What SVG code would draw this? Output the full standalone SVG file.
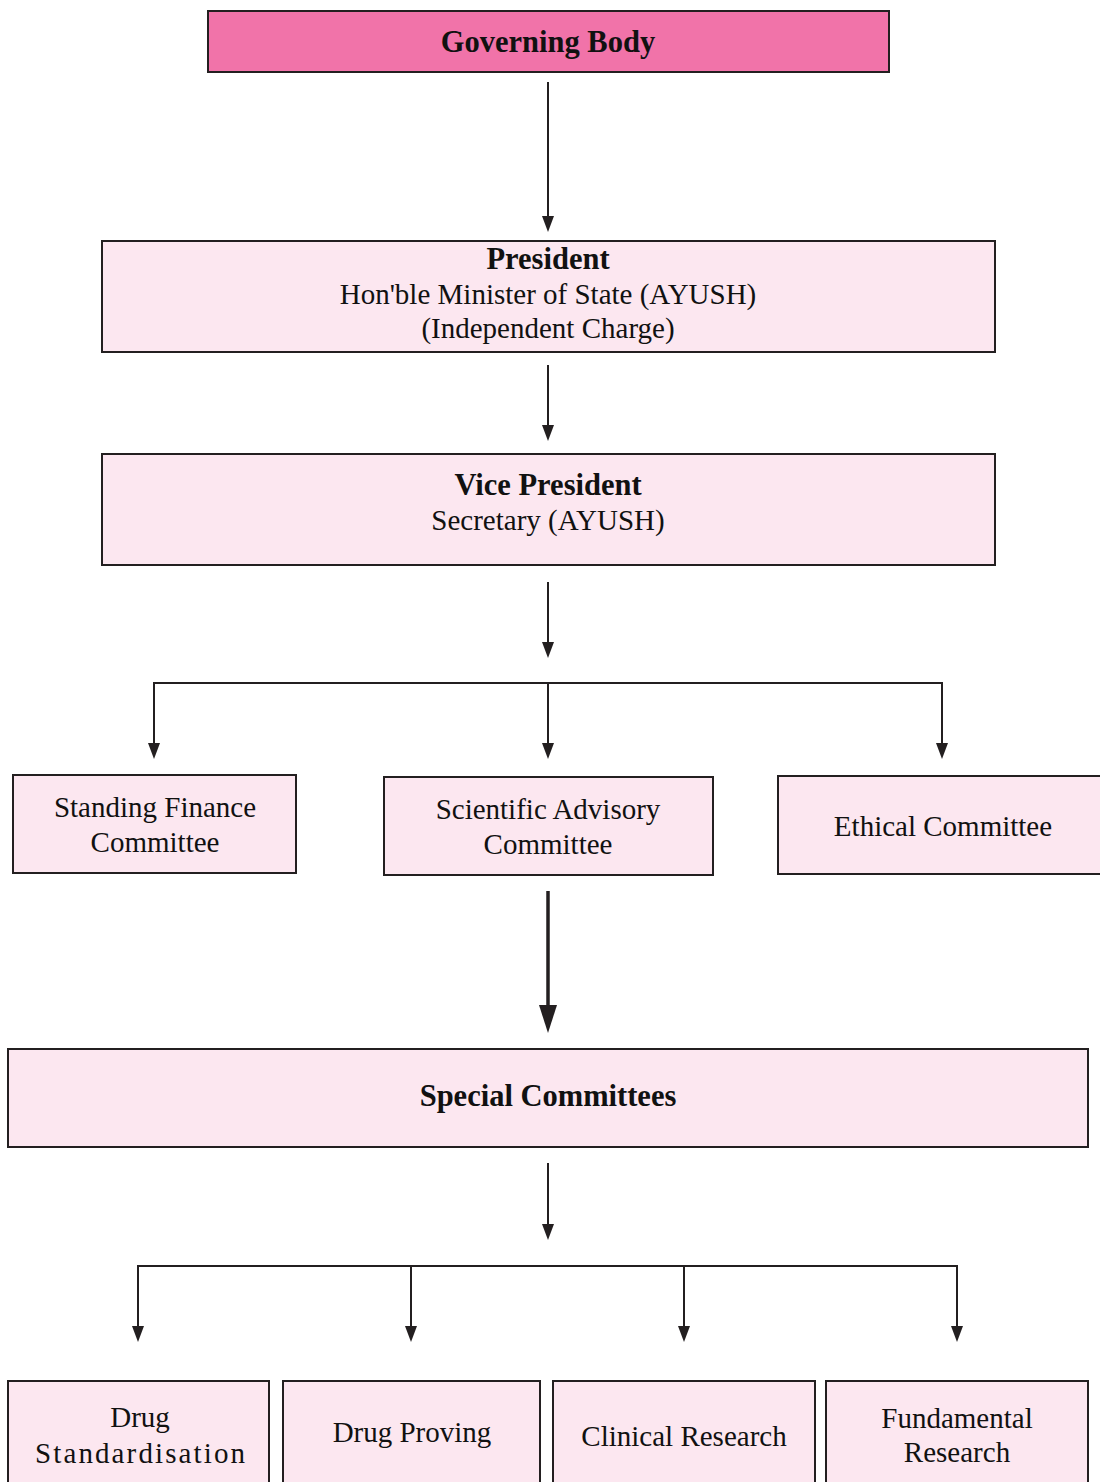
<svg xmlns="http://www.w3.org/2000/svg" width="1100" height="1482" viewBox="0 0 1100 1482">
<defs>
<style>
.box{fill:#FCE7F0;stroke:#231F20;stroke-width:2}
.top{fill:#F173A9;stroke:#231F20;stroke-width:2}
text{font-family:"Liberation Serif","Times New Roman",serif;font-size:29px;fill:#111;text-anchor:middle;dominant-baseline:central}
.b{font-weight:bold;font-size:30.5px}
.ln{stroke:#231F20;stroke-width:2;fill:none}
.thk{stroke:#231F20;stroke-width:3.5;fill:none}
.ah{fill:#231F20}
</style>
</defs>
<rect width="1100" height="1482" fill="#fff"/>
<g id="connectors">
<path class="ln" d="M548,82 V216"/><path class="ah" d="M542,216 H554 L548,232 Z"/>
<path class="ln" d="M548,365 V425"/><path class="ah" d="M542,425 H554 L548,441 Z"/>
<path class="ln" d="M548,582 V642"/><path class="ah" d="M542,642 H554 L548,658 Z"/>
<path class="ln" d="M154,743 V683 H942 V743"/>
<path class="ln" d="M548,683 V743"/>
<path class="ah" d="M148,743 H160 L154,759 Z M542,743 H554 L548,759 Z M936,743 H948 L942,759 Z"/>
<path class="thk" d="M548,891 V1006"/><path class="ah" d="M539,1005 H557 L548,1033 Z"/>
<path class="ln" d="M548,1163 V1224"/><path class="ah" d="M542,1224 H554 L548,1240 Z"/>
<path class="ln" d="M138,1326 V1266 H957 V1326"/>
<path class="ln" d="M411,1266 V1326 M684,1266 V1326"/>
<path class="ah" d="M132,1326 H144 L138,1342 Z M405,1326 H417 L411,1342 Z M678,1326 H690 L684,1342 Z M951,1326 H963 L957,1342 Z"/>
</g>
<g id="governing-body"><rect class="top" x="208" y="11" width="681" height="61"/><text class="b" x="548" y="42">Governing Body</text></g>
<g id="president"><rect class="box" x="102" y="241" width="893" height="111"/>
<text class="b" x="548" y="259">President</text>
<text x="548" y="294">Hon'ble Minister of State (AYUSH)</text>
<text x="548" y="328">(Independent Charge)</text></g>
<g id="vice-president"><rect class="box" x="102" y="454" width="893" height="111"/>
<text class="b" x="548" y="485">Vice President</text>
<text x="548" y="520">Secretary (AYUSH)</text></g>
<g id="standing-finance"><rect class="box" x="13" y="775" width="283" height="98"/>
<text x="155" y="807">Standing Finance</text><text x="155" y="842">Committee</text></g>
<g id="scientific-advisory"><rect class="box" x="384" y="777" width="329" height="98"/>
<text x="548" y="809">Scientific Advisory</text><text x="548" y="844">Committee</text></g>
<g id="ethical"><rect class="box" x="778" y="776" width="330" height="98"/>
<text x="943" y="826">Ethical Committee</text></g>
<g id="special-committees"><rect class="box" x="8" y="1049" width="1080" height="98"/>
<text class="b" x="548" y="1096">Special Committees</text></g>
<g id="drug-standardisation"><rect class="box" x="8" y="1381" width="261" height="110"/>
<text x="140" y="1417">Drug</text><text x="140" y="1453" textLength="210" lengthAdjust="spacing">Standardisation</text></g>
<g id="drug-proving"><rect class="box" x="283" y="1381" width="257" height="110"/>
<text x="412" y="1432">Drug Proving</text></g>
<g id="clinical-research"><rect class="box" x="553" y="1381" width="262" height="110"/>
<text x="684" y="1436">Clinical Research</text></g>
<g id="fundamental-research"><rect class="box" x="826" y="1381" width="262" height="110"/>
<text x="957" y="1418">Fundamental</text><text x="957" y="1452">Research</text></g>
</svg>
